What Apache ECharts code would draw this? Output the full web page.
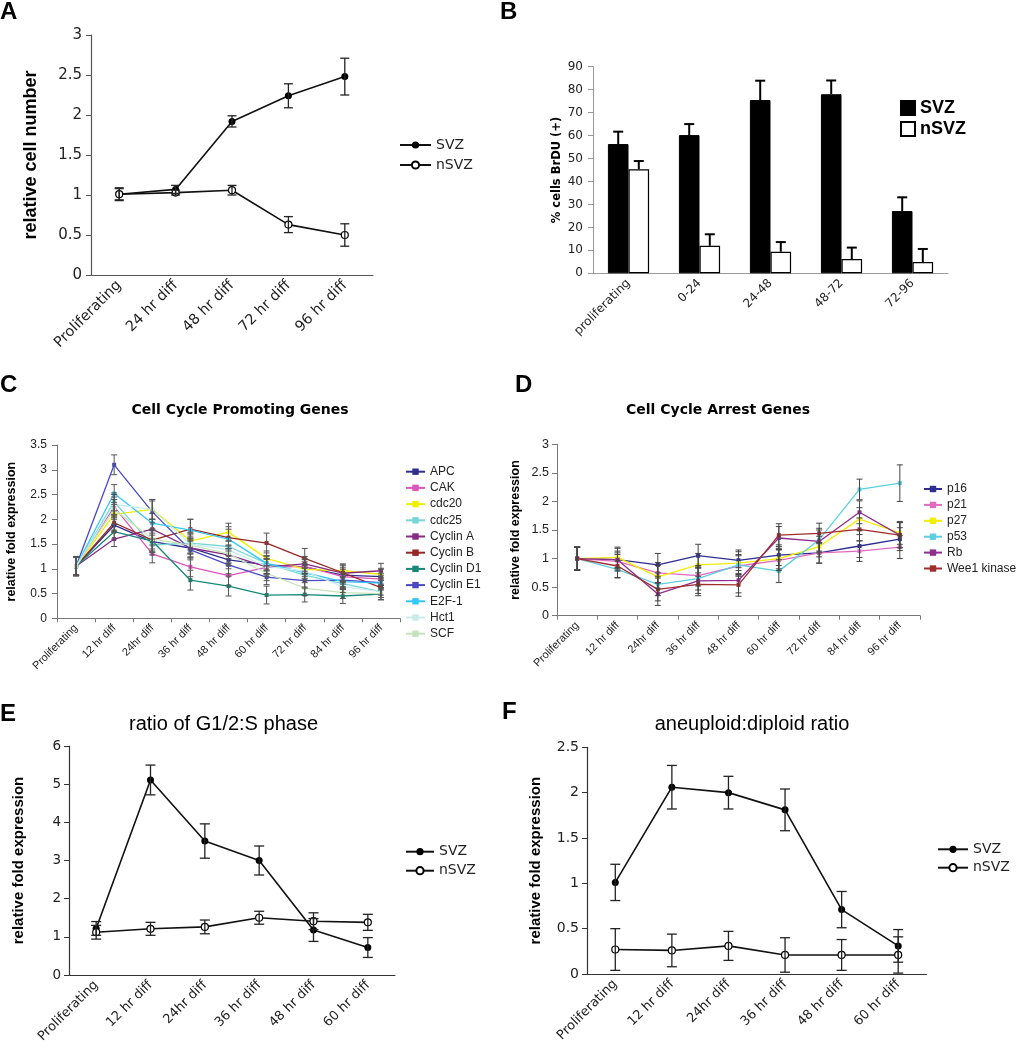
<!DOCTYPE html>
<html><head><meta charset="utf-8">
<script src="https://cdn.jsdelivr.net/npm/echarts@6/dist/echarts.min.js"></script>
<style>html,body{margin:0;padding:0;background:#fff}#c{width:1016px;height:1050px}</style>
</head><body><div id="c"></div><script>
// ---------- Panel A ----------
const catA = ['Proliferating', '24 hr diff', '48 hr diff', '72 hr diff', '96 hr diff'];
const svzA = [1.01, 1.07, 1.92, 2.24, 2.48];
const svzAErr = [0.08, 0.05, 0.07, 0.15, 0.23];
const nsvzA = [1.01, 1.03, 1.06, 0.63, 0.50];
const nsvzAErr = [0.07, 0.03, 0.06, 0.10, 0.14];
const ticksA = { min: 0, max: 3, interval: 0.5 };

// ---------- Panel B ----------
const catB = ['proliferating', '0-24', '24-48', '48-72', '72-96'];
const svzB = [56.3, 60.2, 75.5, 78.0, 27.1];
const svzBErr = [5.4, 4.8, 8.4, 6.0, 6.0];
const nsvzB = [45.3, 12.0, 9.4, 6.2, 4.9];
const nsvzBErr = [3.6, 5.0, 4.2, 5.0, 5.7];
const ticksB = { min: 0, max: 90, interval: 10 };

// ---------- Panel C ----------
const catC = ['Proliferating', '12 hr diff', '24hr diff', '36 hr diff', '48 hr diff', '60 hr diff', '72 hr diff', '84 hr diff', '96 hr diff'];
const cNames = ['APC', 'CAK', 'cdc20', 'cdc25', 'Cyclin A', 'Cyclin B', 'Cyclin D1', 'Cyclin E1', 'E2F-1', 'Hct1', 'SCF'];
const apc      = [1.05, 1.88, 1.55, 1.42, 1.18, 1.08, 1.04, 0.87, 0.84];
const cak      = [1.05, 2.25, 1.30, 1.04, 0.86, 1.03, 1.05, 0.84, 0.79];
const cdc20    = [1.05, 2.10, 2.20, 1.56, 1.74, 1.21, 0.99, 0.96, 0.89];
const cdc25    = [1.05, 2.35, 1.48, 1.52, 1.45, 1.11, 0.87, 0.70, 0.54];
const cyclinA  = [1.05, 1.60, 1.80, 1.42, 1.28, 1.04, 1.10, 0.91, 0.96];
const cyclinB  = [1.05, 1.93, 1.58, 1.80, 1.63, 1.52, 1.21, 0.92, 0.62];
const cyclinD1 = [1.05, 1.75, 1.56, 0.77, 0.65, 0.47, 0.48, 0.45, 0.49];
const cyclinE1 = [1.05, 3.10, 2.15, 1.38, 1.08, 0.83, 0.76, 0.77, 0.72];
const e2f1     = [1.05, 2.52, 1.92, 1.78, 1.60, 1.11, 0.92, 0.74, 0.71];
const hct1     = [1.05, 2.30, 2.20, 1.50, 1.38, 1.05, 0.95, 0.64, 0.54];
const scf      = [1.05, 2.20, 1.60, 1.48, 1.30, 0.91, 0.61, 0.52, 0.50];
const apcErr      = [0.20, 0.15, 0.22, 0.20, 0.18, 0.18, 0.15, 0.15, 0.15];
const cakErr      = [0.18, 0.20, 0.18, 0.20, 0.20, 0.18, 0.15, 0.15, 0.12];
const cdc20Err    = [0.18, 0.20, 0.20, 0.18, 0.18, 0.15, 0.15, 0.12, 0.12];
const cdc25Err    = [0.18, 0.18, 0.20, 0.20, 0.18, 0.15, 0.15, 0.12, 0.12];
const cyclinAErr  = [0.18, 0.15, 0.20, 0.20, 0.18, 0.15, 0.15, 0.15, 0.15];
const cyclinBErr  = [0.18, 0.15, 0.22, 0.20, 0.22, 0.20, 0.20, 0.18, 0.15];
const cyclinD1Err = [0.18, 0.15, 0.22, 0.20, 0.20, 0.18, 0.15, 0.15, 0.12];
const cyclinE1Err = [0.18, 0.20, 0.22, 0.20, 0.18, 0.15, 0.15, 0.15, 0.15];
const e2f1Err     = [0.18, 0.18, 0.20, 0.22, 0.20, 0.15, 0.15, 0.15, 0.12];
const hct1Err     = [0.18, 0.20, 0.20, 0.20, 0.18, 0.15, 0.15, 0.12, 0.12];
const scfErr      = [0.18, 0.20, 0.20, 0.18, 0.18, 0.15, 0.15, 0.12, 0.12];
const ticksC = { min: 0, max: 3.5, interval: 0.5 };

// ---------- Panel D ----------
const catD = ['Proliferating', '12 hr diff', '24hr diff', '36 hr diff', '48 hr diff', '60 hr diff', '72 hr diff', '84 hr diff', '96 hr diff'];
const dNames = ['p16', 'p21', 'p27', 'p53', 'Rb', 'Wee1 kinase'];
const p16  = [1.00, 0.98, 0.89, 1.05, 0.97, 1.06, 1.10, 1.22, 1.34];
const p21  = [1.00, 0.95, 0.75, 0.70, 0.87, 0.97, 1.10, 1.13, 1.20];
const p27  = [1.00, 1.02, 0.68, 0.89, 0.92, 1.00, 1.21, 1.69, 1.45];
const p53  = [1.00, 0.81, 0.55, 0.65, 0.89, 0.78, 1.33, 2.21, 2.32];
const rb   = [1.00, 0.98, 0.38, 0.61, 0.62, 1.36, 1.30, 1.81, 1.41];
const wee1 = [1.00, 0.87, 0.46, 0.55, 0.54, 1.41, 1.44, 1.51, 1.41];
const p16Err  = [0.20, 0.15, 0.20, 0.20, 0.18, 0.18, 0.18, 0.20, 0.20];
const p21Err  = [0.20, 0.15, 0.18, 0.18, 0.18, 0.18, 0.18, 0.18, 0.20];
const p27Err  = [0.20, 0.18, 0.20, 0.20, 0.20, 0.18, 0.18, 0.20, 0.20];
const p53Err  = [0.20, 0.15, 0.20, 0.20, 0.18, 0.20, 0.20, 0.18, 0.32];
const rbErr   = [0.20, 0.20, 0.20, 0.22, 0.22, 0.20, 0.20, 0.20, 0.22];
const wee1Err = [0.20, 0.20, 0.20, 0.20, 0.20, 0.20, 0.18, 0.20, 0.22];
const ticksD = { min: 0, max: 3, interval: 0.5 };

// ---------- Panel E ----------
const catE = ['Proliferating', '12 hr diff', '24hr diff', '36 hr diff', '48 hr diff', '60 hr diff'];
const svzE = [1.22, 5.11, 3.51, 3.00, 1.18, 0.72];
const svzEErr = [0.18, 0.39, 0.45, 0.38, 0.30, 0.26];
const nsvzE = [1.12, 1.21, 1.26, 1.50, 1.41, 1.38];
const nsvzEErr = [0.18, 0.17, 0.18, 0.17, 0.22, 0.21];
const ticksE = { min: 0, max: 6, interval: 1 };

// ---------- Panel F ----------
const catF = ['Proliferating', '12 hr diff', '24hr diff', '36 hr diff', '48 hr diff', '60 hr diff'];
const svzF = [1.01, 2.06, 2.00, 1.81, 0.71, 0.31];
const svzFErr = [0.20, 0.24, 0.18, 0.23, 0.20, 0.18];
const nsvzF = [0.27, 0.26, 0.31, 0.21, 0.21, 0.21];
const nsvzFErr = [0.23, 0.18, 0.16, 0.19, 0.17, 0.20];
const ticksF = { min: 0, max: 2.5, interval: 0.5 };

// ---------- helpers ----------
const FD = 'DejaVu Sans', FL = 'Liberation Sans';
const cColors = ['#2e2e8e', '#dd55bb', '#f2ee00', '#77d6d6', '#862a86', '#992626', '#178878', '#4a4ac4', '#33c8f5', '#c8ecec', '#c6e4bc'];
const dColors = ['#2e2e92', '#e06cc0', '#f2ee00', '#5ccfe0', '#8e2e8e', '#a02c2c'];
const cVals = [apc, cak, cdc20, cdc25, cyclinA, cyclinB, cyclinD1, cyclinE1, e2f1, hct1, scf];
const cErrs = [apcErr, cakErr, cdc20Err, cdc25Err, cyclinAErr, cyclinBErr, cyclinD1Err, cyclinE1Err, e2f1Err, hct1Err, scfErr];
const dVals = [p16, p21, p27, p53, rb, wee1];
const dErrs = [p16Err, p21Err, p27Err, p53Err, rbErr, wee1Err];

function errData(v, e, up) { return v.map((x, i) => [i, up ? x : x - e[i], x + e[i]]); }
function makeErr(capHalf, color, lw, up, offFrac) {
  return function (params, api) {
    const idx = api.value(0), lo = api.value(1), hi = api.value(2);
    const t = api.coord([idx, hi]), b = api.coord([idx, lo]);
    const band = api.size([1, 0])[0];
    const cx = t[0] + band * offFrac;
    const st = { stroke: color, lineWidth: lw };
    const ch = [
      { type: 'line', shape: { x1: cx, y1: t[1], x2: cx, y2: b[1] }, style: st },
      { type: 'line', shape: { x1: cx - capHalf, y1: t[1], x2: cx + capHalf, y2: t[1] }, style: st }
    ];
    if (!up) ch.push({ type: 'line', shape: { x1: cx - capHalf, y1: b[1], x2: cx + capHalf, y2: b[1] }, style: st });
    return { type: 'group', children: ch };
  };
}
function catAxis(gi, data, o) {
  return { gridIndex: gi, type: 'category', data: data, boundaryGap: true,
    axisLine: { show: true, lineStyle: { color: o.lc, width: o.lw || 1 } },
    axisTick: { show: !!o.ticks, alignWithLabel: false, length: 4, lineStyle: { color: o.lc } },
    axisLabel: { interval: 0, rotate: 45, fontFamily: o.ff, fontSize: o.fs, color: '#222', margin: o.m || 8 },
    splitLine: { show: false } };
}
function valAxis(gi, t, o) {
  return { gridIndex: gi, type: 'value', min: t.min, max: t.max, interval: t.interval,
    name: o.name, nameLocation: 'middle', nameGap: o.gap,
    nameTextStyle: { fontFamily: o.nf, fontWeight: 'bold', fontSize: o.ns, color: '#000' },
    axisLine: { show: true, lineStyle: { color: o.lc, width: o.lw || 1 } },
    axisTick: { show: true, length: 5, lineStyle: { color: o.lc } },
    axisLabel: { fontFamily: o.ff, fontSize: o.fs, color: '#222', margin: o.m || 9 },
    splitLine: { show: false } };
}
const fmt = n => (n.indexOf('|') >= 0 ? n.split('|')[1] : n);
function blackLine(name, gi, data, filled) {
  return { type: 'line', name: name, xAxisIndex: gi, yAxisIndex: gi, data: data,
    symbol: 'circle', symbolSize: 7, showSymbol: true,
    lineStyle: { color: '#111', width: 1.6 },
    itemStyle: filled ? { color: '#000' } : { color: '#fff', borderColor: '#000', borderWidth: 1.2 },
    z: 2, silent: true };
}
function errSeries(gi, v, e, cap, color, lw, up, off) {
  return { type: 'custom', name: 'err', xAxisIndex: gi, yAxisIndex: gi,
    renderItem: makeErr(cap, color, lw, up, off || 0), data: errData(v, e, up),
    encode: { x: 0, y: [1, 2] }, z: 3, silent: true };
}

const series = [];
// A
series.push(blackLine('A|SVZ', 0, svzA, true), blackLine('A|nSVZ', 0, nsvzA, false));
series.push(errSeries(0, svzA, svzAErr, 4.5, '#222', 1.3, false), errSeries(0, nsvzA, nsvzAErr, 4.5, '#222', 1.3, false));
// B
series.push({ type: 'bar', name: 'B|SVZ', xAxisIndex: 1, yAxisIndex: 1, data: svzB, barGap: '0%', barCategoryGap: '42%',
  itemStyle: { color: '#000', borderColor: '#000', borderWidth: 1 }, silent: true });
series.push({ type: 'bar', name: 'B|nSVZ', xAxisIndex: 1, yAxisIndex: 1, data: nsvzB, barGap: '0%', barCategoryGap: '42%',
  itemStyle: { color: '#fff', borderColor: '#000', borderWidth: 1.2 }, silent: true });
series.push(errSeries(1, svzB, svzBErr, 5, '#000', 2, true, -0.145), errSeries(1, nsvzB, nsvzBErr, 5, '#000', 2, true, 0.145));
// C
cNames.forEach((n, k) => {
  series.push({ type: 'line', name: n, xAxisIndex: 2, yAxisIndex: 2, data: cVals[k], symbol: 'rect', symbolSize: 4,
    lineStyle: { color: cColors[k], width: 1.3 }, itemStyle: { color: cColors[k] }, z: 2, silent: true });
});
cNames.forEach((n, k) => series.push(errSeries(2, cVals[k], cErrs[k], 3, '#555', 1, false)));
// D
dNames.forEach((n, k) => {
  series.push({ type: 'line', name: n, xAxisIndex: 3, yAxisIndex: 3, data: dVals[k], symbol: 'rect', symbolSize: 4,
    lineStyle: { color: dColors[k], width: 1.3 }, itemStyle: { color: dColors[k] }, z: 2, silent: true });
});
dNames.forEach((n, k) => series.push(errSeries(3, dVals[k], dErrs[k], 3, '#444', 1, false)));
// E
series.push(blackLine('E|SVZ', 4, svzE, true), blackLine('E|nSVZ', 4, nsvzE, false));
series.push(errSeries(4, svzE, svzEErr, 5, '#222', 1.3, false), errSeries(4, nsvzE, nsvzEErr, 5, '#222', 1.3, false));
// F
series.push(blackLine('F|SVZ', 5, svzF, true), blackLine('F|nSVZ', 5, nsvzF, false));
series.push(errSeries(5, svzF, svzFErr, 5, '#222', 1.3, false), errSeries(5, nsvzF, nsvzFErr, 5, '#222', 1.3, false));

const gridBase = { containLabel: false, outerBoundsMode: 'none' };
const option = {
  animation: false,
  backgroundColor: '#fff',
  grid: [
    Object.assign({ left: 91, top: 35, width: 282, height: 240 }, gridBase),
    Object.assign({ left: 593, top: 66.7, width: 355, height: 206.6 }, gridBase),
    Object.assign({ left: 57, top: 445, width: 343, height: 173.3 }, gridBase),
    Object.assign({ left: 557, top: 444.3, width: 363, height: 171.4 }, gridBase),
    Object.assign({ left: 69, top: 746, width: 326, height: 229 }, gridBase),
    Object.assign({ left: 587, top: 747.3, width: 339.5, height: 226.7 }, gridBase)
  ],
  xAxis: [
    catAxis(0, catA, { lc: '#555', lw: 1.2, ff: FD, fs: 14.5 }),
    catAxis(1, catB, { lc: '#999', ff: FD, fs: 12 }),
    catAxis(2, catC, { lc: '#777', ff: FL, fs: 11, ticks: true, m: 8 }),
    catAxis(3, catD, { lc: '#777', ff: FL, fs: 11, ticks: true, m: 8 }),
    catAxis(4, catE, { lc: '#333', lw: 1.2, ff: FD, fs: 13 }),
    catAxis(5, catF, { lc: '#333', lw: 1.2, ff: FD, fs: 13 })
  ],
  yAxis: [
    valAxis(0, ticksA, { name: 'relative cell number', gap: 51, nf: FL, ns: 18, lc: '#555', lw: 1.2, ff: FD, fs: 15, m: 9 }),
    valAxis(1, ticksB, { name: '% cells BrDU (+)', gap: 30, nf: FD, ns: 11.5, lc: '#999', ff: FD, fs: 12, m: 10 }),
    valAxis(2, ticksC, { name: 'relative fold expression', gap: 39, nf: FL, ns: 12.5, lc: '#777', ff: FL, fs: 12, m: 10 }),
    valAxis(3, ticksD, { name: 'relative fold expression', gap: 35, nf: FL, ns: 12.5, lc: '#777', ff: FL, fs: 12.5, m: 8 }),
    valAxis(4, ticksE, { name: 'relative fold expression', gap: 43, nf: FL, ns: 15, lc: '#333', lw: 1.2, ff: FD, fs: 13.5, m: 8 }),
    valAxis(5, ticksF, { name: 'relative fold expression', gap: 44, nf: FL, ns: 15, lc: '#333', lw: 1.2, ff: FD, fs: 14, m: 8 })
  ],
  legend: [
    { orient: 'vertical', left: 399, top: 138, padding: 0, itemWidth: 31, itemHeight: 9, itemGap: 6, selectedMode: false,
      data: ['A|SVZ', 'A|nSVZ'], formatter: fmt, textStyle: { fontFamily: FD, fontSize: 14, color: '#222' } },
    { orient: 'vertical', left: 900, top: 99, padding: 0, icon: 'rect', itemWidth: 14, itemHeight: 14, itemGap: 3, selectedMode: false,
      data: ['B|SVZ', 'B|nSVZ'], formatter: fmt, textStyle: { fontFamily: FL, fontWeight: 'bold', fontSize: 18, color: '#000' } },
    { orient: 'vertical', left: 405, top: 465.7, padding: 0, itemWidth: 19, itemHeight: 8, itemGap: 4.2, selectedMode: false,
      data: cNames, textStyle: { fontFamily: FL, fontSize: 12, color: '#222' } },
    { orient: 'vertical', left: 923, top: 483, padding: 0, itemWidth: 18, itemHeight: 8, itemGap: 3.9, selectedMode: false,
      data: dNames, textStyle: { fontFamily: FL, fontSize: 12, color: '#222' } },
    { orient: 'vertical', left: 405, top: 844.7, padding: 0, itemWidth: 28, itemHeight: 9, itemGap: 5, selectedMode: false,
      data: ['E|SVZ', 'E|nSVZ'], formatter: fmt, textStyle: { fontFamily: FD, fontSize: 14, color: '#222' } },
    { orient: 'vertical', left: 937, top: 842.3, padding: 0, itemWidth: 30, itemHeight: 9, itemGap: 4.4, selectedMode: false,
      data: ['F|SVZ', 'F|nSVZ'], formatter: fmt, textStyle: { fontFamily: FD, fontSize: 14, color: '#222' } }
  ],
  graphic: [
    { type: 'text', x: 0, y: 12, style: { text: 'A', fontFamily: FL, fontWeight: 'bold', fontSize: 24, fill: '#000', verticalAlign: 'middle' } },
    { type: 'text', x: 500, y: 12, style: { text: 'B', fontFamily: FL, fontWeight: 'bold', fontSize: 24, fill: '#000', verticalAlign: 'middle' } },
    { type: 'text', x: 0, y: 385, style: { text: 'C', fontFamily: FL, fontWeight: 'bold', fontSize: 24, fill: '#000', verticalAlign: 'middle' } },
    { type: 'text', x: 515, y: 385, style: { text: 'D', fontFamily: FL, fontWeight: 'bold', fontSize: 24, fill: '#000', verticalAlign: 'middle' } },
    { type: 'text', x: 0, y: 714, style: { text: 'E', fontFamily: FL, fontWeight: 'bold', fontSize: 24, fill: '#000', verticalAlign: 'middle' } },
    { type: 'text', x: 502, y: 712, style: { text: 'F', fontFamily: FL, fontWeight: 'bold', fontSize: 24, fill: '#000', verticalAlign: 'middle' } },
    { type: 'text', x: 240, y: 410, style: { text: 'Cell Cycle Promoting Genes', fontFamily: FD, fontWeight: 'bold', fontSize: 14, fill: '#000', align: 'center', verticalAlign: 'middle' } },
    { type: 'text', x: 718, y: 410, style: { text: 'Cell Cycle Arrest Genes', fontFamily: FD, fontWeight: 'bold', fontSize: 14, fill: '#000', align: 'center', verticalAlign: 'middle' } },
    { type: 'text', x: 223.5, y: 724, style: { text: 'ratio of G1/2:S phase', fontFamily: FL, fontSize: 20, fill: '#000', align: 'center', verticalAlign: 'middle' } },
    { type: 'text', x: 752, y: 724, style: { text: 'aneuploid:diploid ratio', fontFamily: FL, fontSize: 20, fill: '#000', align: 'center', verticalAlign: 'middle' } }
  ],
  series: series
};
const chart = echarts.init(document.getElementById('c'), null, { renderer: 'canvas' });
chart.setOption(option);
</script></body></html>
